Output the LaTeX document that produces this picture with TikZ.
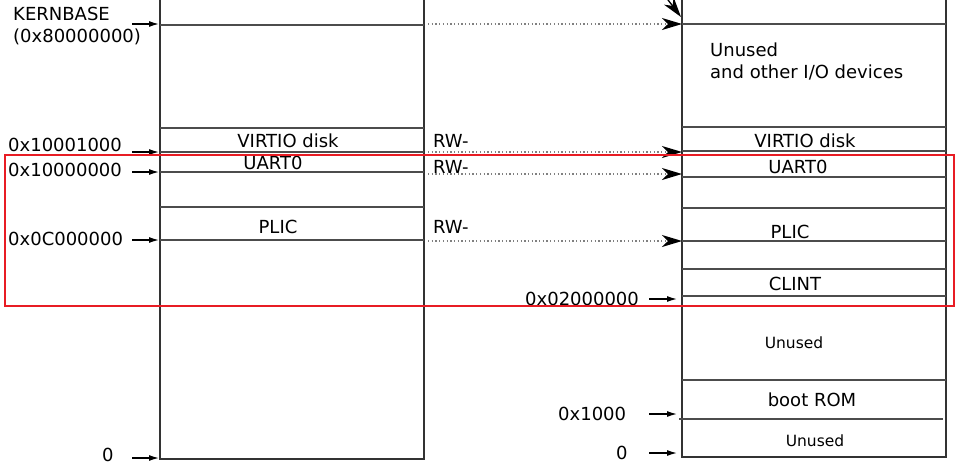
\documentclass[tikz,border=0pt]{standalone}
\usepackage{fontspec}
\setmainfont{DejaVu Sans}
\usetikzlibrary{arrows.meta}
\definecolor{hlred}{RGB}{232,28,36}

\begin{document}
\begin{tikzpicture}[x=1pt,y=-1pt,
  box/.style={line width=2pt, black!80},
  sep/.style={line width=1.5pt, black!70},
  addr/.style={line width=1.3pt, -{Latex[length=10pt,width=6pt]}},
  map/.style={line width=1.3pt, black!50, dash pattern=on 1.3pt off 2.4pt,
    -{Stealth[length=20pt,width=12pt,inset=6pt,color=black]}},
  lbl/.style={anchor=base, inner sep=0pt, font=\fontsize{18}{22}\selectfont},
  lblsmall/.style={lbl, font=\fontsize{15.5}{18}\selectfont}]
  \useasboundingbox (0,0) rectangle (967,469);

  % physical memory (left) and its pieces
  \draw[box] (160,-5) -- (160,459) -- (424,459) -- (424,-5);
  \foreach \y in {25,128,152,172,207,240}{
    \draw[sep] (160,\y) -- (424,\y);
  }
  \node[lbl] (vdL) at (288,147) {VIRTIO disk};
  \node[lbl] (uartL) at (273,169) {UART0};
  \node[lbl] (plicL) at (278,233) {PLIC};

  % kernel address space (right)
  \draw[box] (682,-5) -- (682,457) -- (946,457) -- (946,-5);
  \foreach \y in {24,127,151,177,208,241,269,296,380}{
    \draw[sep] (682,\y) -- (946,\y);
  }
  \draw[sep] (679,419) -- (943,419);
  \node[lbl, anchor=base west] (unusedtop) at (710,56) {Unused};
  \node[lbl, anchor=base west] (iodev) at (710,78) {and other I/O devices};
  \node[lbl] (vdR) at (805,147) {VIRTIO disk};
  \node[lbl] (uartR) at (798,173) {UART0};
  \node[lbl] (plicR) at (790,238) {PLIC};
  \node[lbl] (clint) at (795,290) {CLINT};
  \node[lblsmall] (unusedmid) at (794,348) {Unused};
  \node[lbl] (bootrom) at (812,406) {boot ROM};
  \node[lblsmall] (unusedlow) at (815,446) {Unused};

  % addresses on the left
  \node[lbl, anchor=base west] (kernbase) at (13,20) {KERNBASE};
  \node[lbl, anchor=base west] (kernaddr) at (13,42) {(0x80000000)};
  \node[lbl, anchor=base west] (a1001) at (8,151) {0x10001000};
  \node[lbl, anchor=base west] (a1000) at (8,176) {0x10000000};
  \node[lbl, anchor=base west] (a0c) at (8,245) {0x0C000000};
  \node[lbl, anchor=base west] (azero) at (102,461) {0};
  \foreach \n/\y in {kb/24,vd/152,ua/172,pl/240,zr/458}{
    \coordinate (A\n) at (132,\y);
    \coordinate (L\n) at (159,\y);
    \draw[addr] (A\n) -- (L\n);
  }

  % addresses on the right
  \node[lbl, anchor=base west] (a0200) at (525,305) {0x02000000};
  \node[lbl, anchor=base west] (a0010) at (558,420) {0x1000};
  \node[lbl, anchor=base west] (rzero) at (616,459) {0};
  \foreach \n/\y in {cl/299,br/414,zr/453}{
    \coordinate (B\n) at (649,\y);
    \coordinate (R\n) at (677,\y);
    \draw[addr] (B\n) -- (R\n);
  }

  % direct mappings
  \node[lbl, anchor=base west] (rw1) at (433,147) {RW-};
  \node[lbl, anchor=base west] (rw2) at (433,173) {RW-};
  \node[lbl, anchor=base west] (rw3) at (433,233) {RW-};
  \foreach \n/\y in {kb/24,vd/152,ua/174,pl/241}{
    \coordinate (M\n) at (428,\y);
    \coordinate (K\n) at (682,\y);
    \draw[map] (M\n) -- (K\n);
  }
  \coordinate (upper) at (662,-8);
  \coordinate (uppertip) at (681,17);
  \draw[line width=1.3pt, -{Stealth[length=20pt,width=12pt,inset=6pt]}] (upper) -- (uppertip);

  % highlight
  \draw[hlred, line width=2.8pt] (5,155) rectangle (954,306);
\end{tikzpicture}
\end{document}
